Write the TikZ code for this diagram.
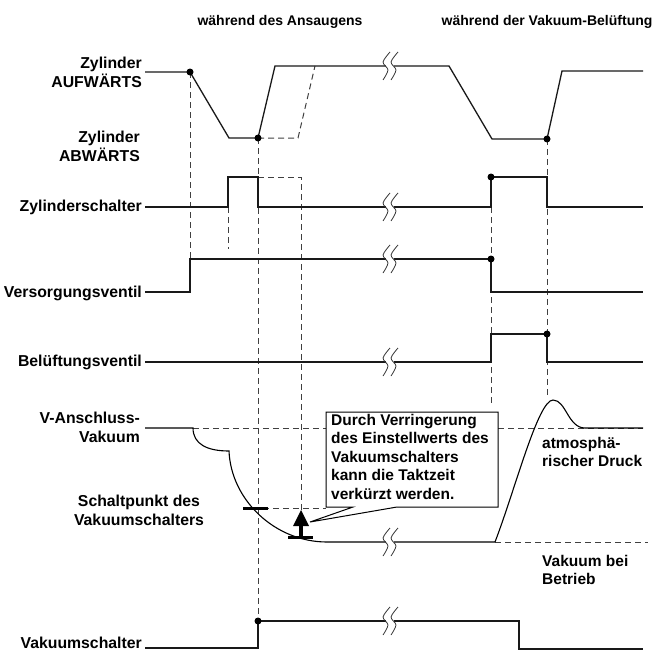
\documentclass[tikz,border=0pt]{standalone}
\usepackage{fontspec}
\setmainfont{Liberation Sans}
\usetikzlibrary{positioning}

\begin{document}
\begin{tikzpicture}[
    x=1pt, y=-1pt,
    lbl/.style={
        font=\fontsize{15.8}{19}\selectfont\bfseries,
        align=right,
        anchor=east,
        inner sep=1pt
    },
    hdr/.style={
        font=\fontsize{14}{17}\selectfont\bfseries,
        inner sep=0pt
    },
    note/.style={
        font=\fontsize{15.5}{18.4}\selectfont\bfseries,
        align=left,
        inner sep=0pt
    },
    sig/.style={
        line width=1.3pt,
        black!90
    },
    aux/.style={
        line width=1pt,
        black!75,
        dash pattern=on 6pt off 4pt
    },
    dotmark/.style={
        circle,
        fill=black,
        inner sep=0pt,
        minimum size=7pt
    },
    brk/.pic={
        \fill[white] (-0.5,-2) rectangle (7.5,2);
        \foreach \dx in {0,8}
            \draw[line width=0.8pt, black!80] plot[smooth] coordinates
                {(\dx+4,-14) (\dx-3,-4) (\dx+2,4) (\dx-3,14)};
    }
]

\useasboundingbox (0,0) rectangle (668,653);

% ============================================================
% HEADERS AND SIGNAL NAMES
% ============================================================

\node[hdr] (hans) at (280,22) {während des Ansaugens};
\node[hdr] (hbel) at (547,22) {während der Vakuum-Belüftung};

\node[lbl] (zauf) at (143,72.5) {Zylinder\\AUFWÄRTS};
\node[lbl] (zab)  at (141,146.5) {Zylinder\\ABWÄRTS};
\node[lbl] (zsch) at (143,207) {Zylinderschalter};
\node[lbl] (vers) at (143,293) {Versorgungsventil};
\node[lbl] (bel)  at (143,362) {Belüftungsventil};
\node[lbl] (vans) at (141,427) {V-Anschluss-\\Vakuum};
\node[lbl, align=center, anchor=center] (spkt) at (139,510)
{Schaltpunkt des\\Vakuumschalters};
\node[lbl] (vsch) at (143,642.5) {Vakuumschalter};

\node[note, anchor=west] (atm)  at (542,452) {atmosphä-\\rischer Druck};
\node[note, anchor=west] (vbet) at (542,570) {Vakuum bei\\Betrieb};

% ============================================================
% AUXILIARY DASHED LINES
% ============================================================

\draw[aux] (190,72) -- (190,259);
\draw[aux] (258,138) -- (258,621);
\draw[aux] (228,207) -- (228,249);
\draw[aux] (258,138) -- (298,138) -- (315,66);
\draw[aux] (258,177) -- (301,177) -- (301,510);
\draw[aux] (491,177) -- (491,405);
\draw[aux] (547,139) -- (547,398);

\draw[aux] (193,428) -- (326,428);
\draw[aux] (498,428) -- (643,428);
\draw[aux] (243,508) -- (326,508);
\draw[aux] (495,542) -- (648,542);

% ============================================================
% SIGNALS
% ============================================================

% Zylinder
\draw[sig] (145,72) -- (190,72) -- (229,138) -- (258,138) -- (275,66)
    -- (449,66) -- (492,139) -- (547,139) -- (562,71) -- (643,71);

% Zylinderschalter
\draw[sig] (145,207) -- (228,207) -- (228,177) -- (258,177) -- (258,207)
    -- (491,207) -- (491,177) -- (547,177) -- (547,207) -- (643,207);

% Versorgungsventil
\draw[sig] (145,292) -- (190,292) -- (190,259) -- (491,259) -- (491,292)
    -- (643,292);

% Belueftungsventil
\draw[sig] (145,362) -- (491,362) -- (491,334) -- (547,334) -- (547,362)
    -- (643,362);

% V-Anschluss-Vakuum
\draw[line width=1.1pt] (145,428) -- (193,428)
    .. controls (193,444) and (207,451) .. (229,451)
    .. controls (231,500) and (275,542) .. (327,542) -- (495,542)
    .. controls (515,490) and (538,400) .. (553,400)
    .. controls (566,400) and (568,428) .. (585,428) -- (643,428);

% Vakuumschalter
\draw[sig] (145,648) -- (258,648) -- (258,621) -- (519,621) -- (519,649)
    -- (643,649);

% Breaks
\foreach \y in {66,207,259,362,542,621}
    \pic at (386,\y) {brk};

% Dots
\node[dotmark] (d1) at (190,72) {};
\node[dotmark] (d2) at (258,138) {};
\node[dotmark] (d3) at (547,139) {};
\node[dotmark] (d4) at (491,177) {};
\node[dotmark] (d5) at (491,259) {};
\node[dotmark] (d6) at (547,334) {};
\node[dotmark] (d7) at (258,621) {};

% ============================================================
% SWITCH POINT AND NOTE
% ============================================================

\draw[line width=3pt] (243,508) -- (268,508);
\fill (301,510) -- (309,526) -- (293,526) -- cycle;
\draw[line width=4pt] (301,525) -- (301,536);
\draw[line width=3pt] (288,537.5) -- (313,537.5);

\draw[line width=1pt, fill=white] (326,412) -- (498,412) -- (498,507)
    -- (397,507) -- (310,522) -- (353,507) -- (326,507) -- cycle;
\node[note, anchor=north west] (hint) at (331,414)
{Durch Verringerung\\des Einstellwerts des\\Vakuumschalters\\kann die Taktzeit\\verkürzt werden.};

\end{tikzpicture}
\end{document}
